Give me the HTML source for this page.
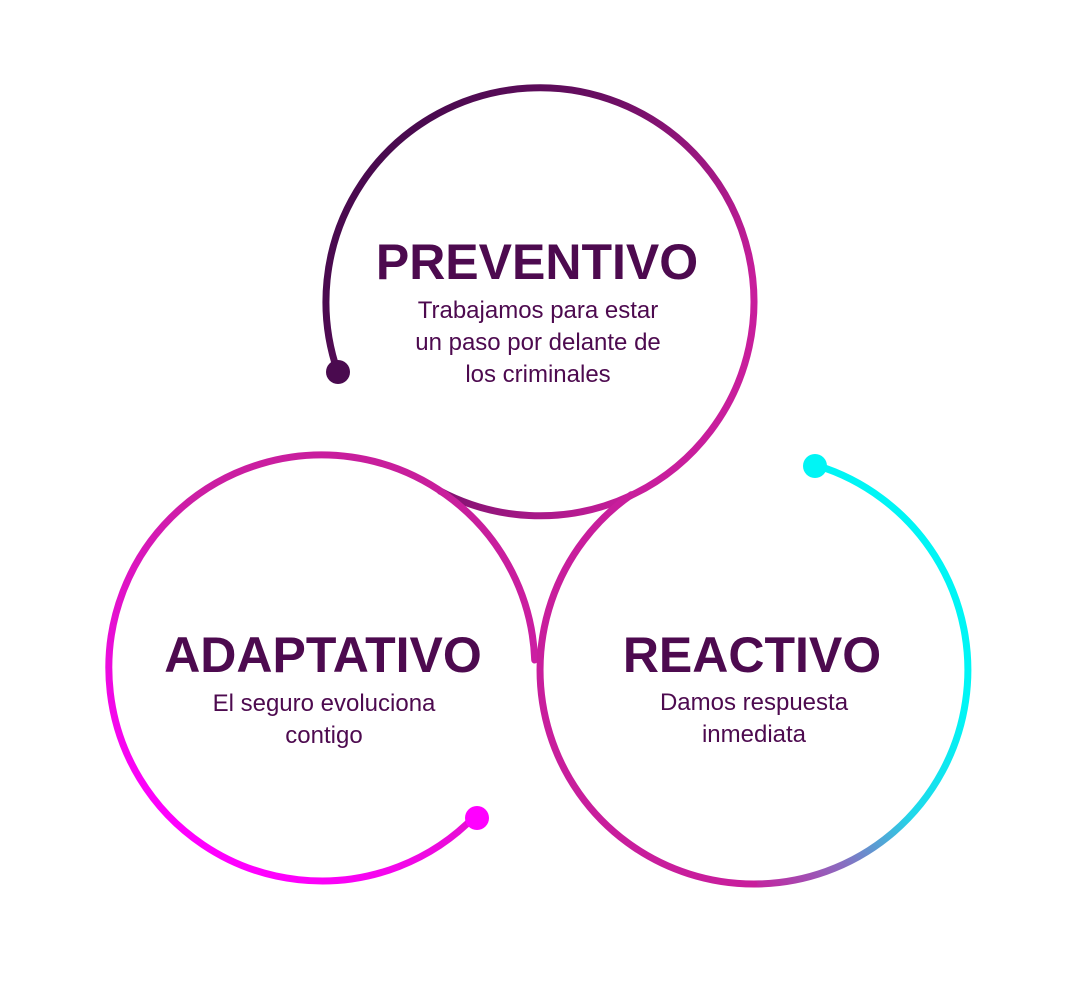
<!DOCTYPE html>
<html><head><meta charset="utf-8"><style>
html,body{margin:0;padding:0;background:#fff;}
svg{display:block;}
</style></head><body>
<svg width="1080" height="981" viewBox="0 0 1080 981" xmlns="http://www.w3.org/2000/svg">
<defs>
<linearGradient id="gt" gradientUnits="userSpaceOnUse" x1="380" y1="200" x2="700" y2="380">
<stop offset="0" stop-color="#4a0a4f"/><stop offset="0.4" stop-color="#6a0e62"/><stop offset="1" stop-color="#c81e9c"/></linearGradient>
<linearGradient id="gl" gradientUnits="userSpaceOnUse" x1="400" y1="470" x2="200" y2="840">
<stop offset="0" stop-color="#c81e9c"/><stop offset="0.3" stop-color="#cc1ea4"/><stop offset="1" stop-color="#ff00ff"/></linearGradient>
<linearGradient id="gr" gradientUnits="userSpaceOnUse" x1="960" y1="700" x2="750" y2="890">
<stop offset="0" stop-color="#00f5f5"/><stop offset="0.4" stop-color="#20d8ea"/><stop offset="0.7" stop-color="#8a6cc0"/><stop offset="1" stop-color="#c81e9c"/></linearGradient>
</defs>
<g fill="none" stroke-width="7" stroke-linecap="round">
<path d="M337.7,371.7 A214,214 0 1 1 440,491" stroke="url(#gt)"/>
<path d="M475,816 A213,213 0 1 1 534.7,660" stroke="url(#gl)"/>
<path d="M816.6,465.4 A214,214 0 0 1 754,884" stroke="url(#gr)"/>
<path d="M754,884 A214,214 0 0 1 631.3,494.7" stroke="#c81e9c"/>
</g>
<circle cx="338" cy="372" r="12" fill="#4a0a4f"/>
<circle cx="477" cy="818" r="12" fill="#ff00ff"/>
<circle cx="815" cy="466" r="12" fill="#00f5f5"/>
<g font-family="Liberation Sans, sans-serif" fill="#4d0a4f" text-anchor="middle">
<text x="537" y="279" font-size="50" font-weight="bold">PREVENTIVO</text>
<text x="538" y="318" font-size="24">Trabajamos para estar</text>
<text x="538" y="350" font-size="24">un paso por delante de</text>
<text x="538" y="382" font-size="24">los criminales</text>
<text x="323" y="672" font-size="50" font-weight="bold">ADAPTATIVO</text>
<text x="324" y="711" font-size="24">El seguro evoluciona</text>
<text x="324" y="743" font-size="24">contigo</text>
<text x="752" y="672" font-size="50" font-weight="bold">REACTIVO</text>
<text x="754" y="710" font-size="24">Damos respuesta</text>
<text x="754" y="742" font-size="24">inmediata</text>
</g>
</svg>
</body></html>
